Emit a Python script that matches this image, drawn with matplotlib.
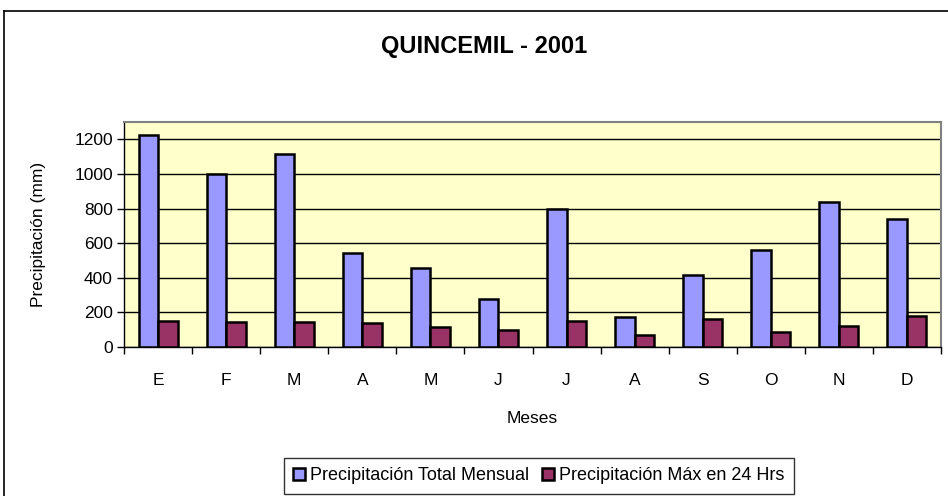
import numpy as np
import matplotlib.pyplot as plt
from matplotlib.lines import Line2D

plt.rcParams['font.family'] = ['Liberation Sans', 'DejaVu Sans']

# === Data ===
meses = ['E', 'F', 'M', 'A', 'M', 'J', 'J', 'A', 'S', 'O', 'N', 'D']
precip_total = [1225, 1000, 1115, 545, 458, 277, 798, 172, 414, 559, 840, 740]
precip_max24 = [150, 146, 145, 137, 117, 96, 148, 69, 162, 85, 121, 177]

titulo = 'QUINCEMIL - 2001'
label_total = 'Precipitación Total Mensual'
label_max = 'Precipitación Máx en 24 Hrs'

# === Figure ===
fig = plt.figure(figsize=(9.48, 4.96), dpi=100)
ax = fig.add_axes([124 / 948, 1 - 347 / 496, (941 - 124) / 948, (347 - 122) / 496])
ax.set_facecolor('#FFFFCC')

x = np.arange(len(meses))
w = 0.286
ax.bar(x - w / 2, precip_total, w, color='#9999FF', edgecolor='black',
       linewidth=1.8, label=label_total, zorder=3)
ax.bar(x + w / 2, precip_max24, w, color='#993366', edgecolor='black',
       linewidth=1.8, label=label_max, zorder=3)

ax.set_ylim(0, 1300)
ax.set_xlim(-0.5, len(meses) - 0.5)
ax.set_yticks(range(0, 1201, 200))
ax.yaxis.grid(True, color='black', linewidth=1.0, zorder=1)

# category labels in the middle, tick marks on the boundaries
ax.set_xticks(x)
ax.set_xticklabels(meses, fontsize=12.5)
ax.set_xticks(np.arange(-0.5, len(meses)), minor=True)
ax.tick_params(axis='x', which='major', length=0, pad=19)
ax.tick_params(axis='x', which='minor', length=5, width=1, color='black')
ax.tick_params(axis='y', labelsize=12.5, length=5, width=1, pad=3)

for s in ['top', 'right']:
    ax.spines[s].set_color('#808080')
    ax.spines[s].set_linewidth(1.5)
for s in ['left', 'bottom']:
    ax.spines[s].set_color('black')
    ax.spines[s].set_linewidth(1.0)

ax.set_xlabel('Meses', fontsize=12.5, labelpad=16)
ax.set_ylabel('Precipitación (mm)', fontsize=12.5, labelpad=20)

fig.text(484 / 948, 1 - 47 / 496, titulo, ha='center', va='center',
         fontsize=17, fontweight='bold')

# outer chart border (left and top visible)
fig.add_artist(Line2D([4 / 948, 4 / 948], [0, 1 - 11 / 496], color='black',
                      linewidth=1.2, transform=fig.transFigure))
fig.add_artist(Line2D([4 / 948, 1], [1 - 11 / 496, 1 - 11 / 496], color='black',
                      linewidth=1.2, transform=fig.transFigure))

leg = fig.legend(loc='center', bbox_to_anchor=(539 / 948, 1 - 476 / 496),
                 ncol=2, fontsize=13, frameon=True, fancybox=False,
                 edgecolor='black', handlelength=0.65, handleheight=0.65,
                 handletextpad=0.3, columnspacing=0.7, borderpad=0.5)
leg.get_frame().set_linewidth(1.0)

fig.savefig('out.png', dpi=100)
